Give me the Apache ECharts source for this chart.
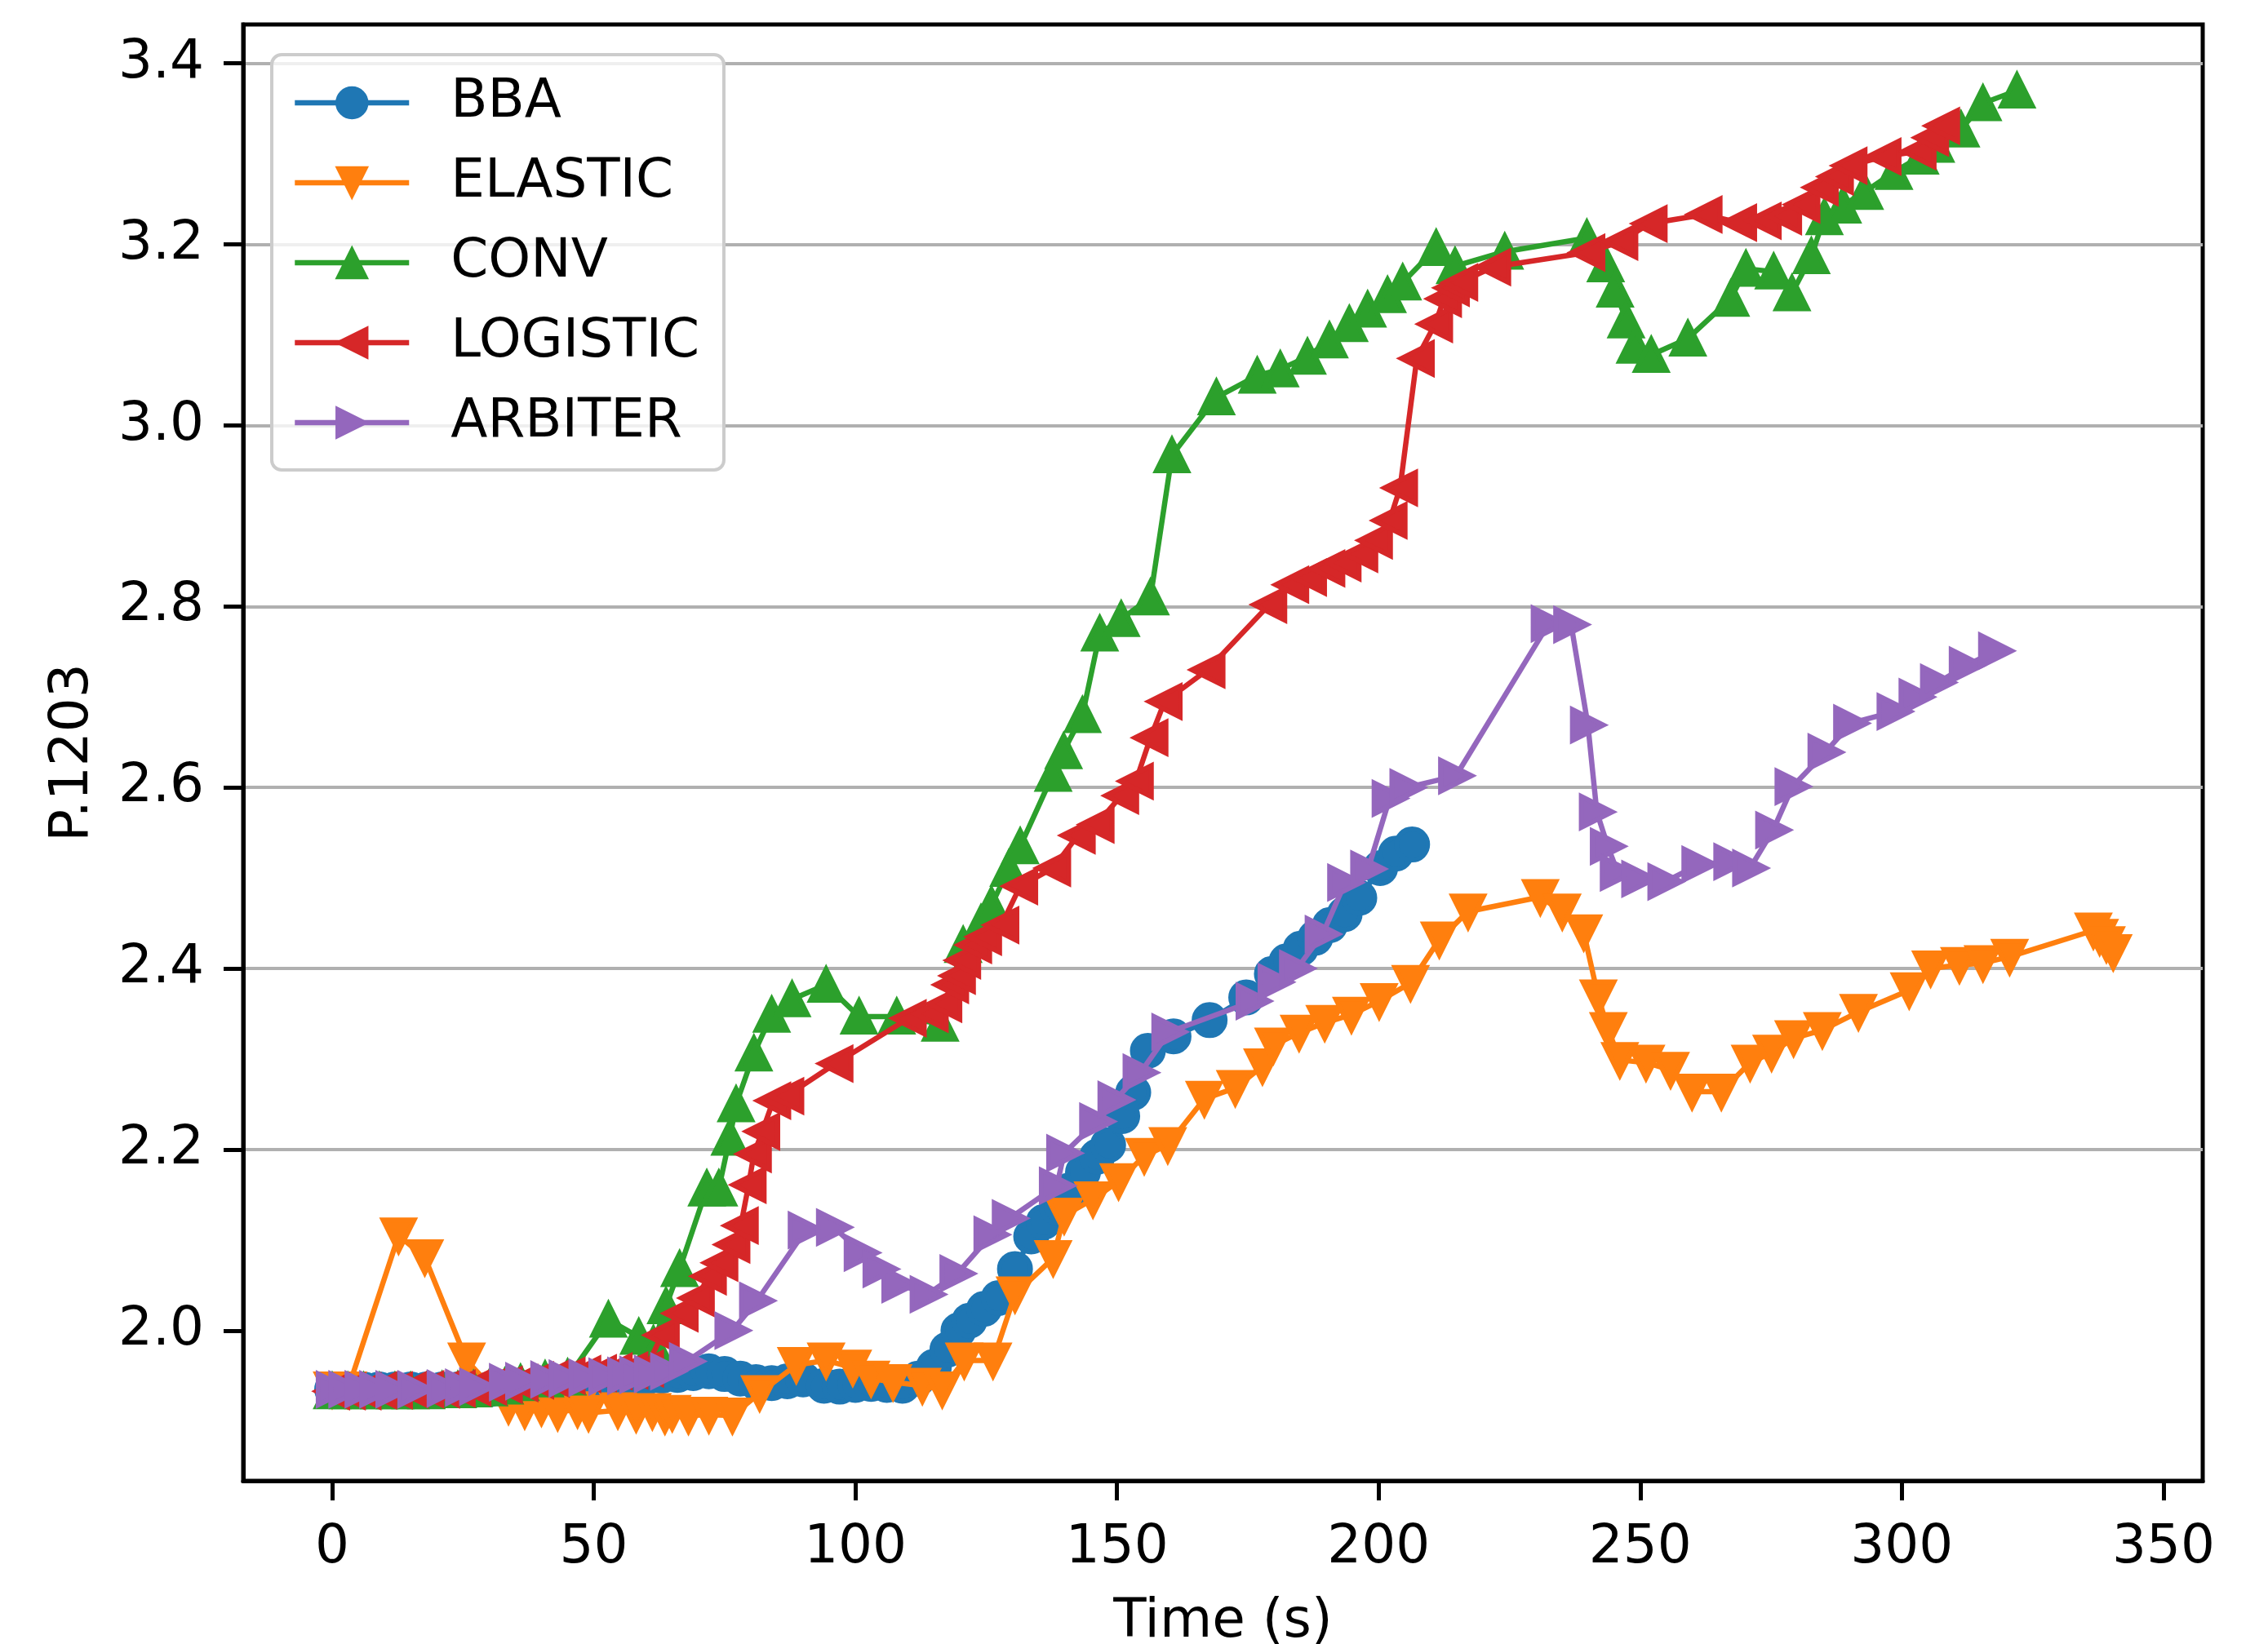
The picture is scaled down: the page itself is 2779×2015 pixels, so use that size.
<!DOCTYPE html>
<html><head><meta charset="utf-8">
<script src="https://cdn.jsdelivr.net/npm/echarts@6/dist/echarts.min.js"></script>
<style>html,body{margin:0;padding:0;background:#fff}#c{width:2779px;height:2015px}</style>
</head><body><div id="c"></div>
<script>
const seriesNames = ['BBA', 'ELASTIC', 'CONV', 'LOGISTIC', 'ARBITER'];
const xTicks = [0, 50, 100, 150, 200, 250, 300, 350];
const yTicks = [2.0, 2.2, 2.4, 2.6, 2.8, 3.0, 3.2, 3.4];

const bbaData = [[0,1.935],[3,1.935],[6,1.935],[9,1.935],[12,1.935],[15,1.935],[18,1.935],[21,1.935],[24,1.935],[27,1.935],[30,1.935],[33,1.936],[36,1.937],[39,1.938],[42,1.94],[45,1.941],[48,1.942],[51,1.944],[54,1.945],[57,1.946],[60,1.948],[63,1.95],[66,1.951],[69,1.953],[72,1.955],[75,1.952],[78,1.947],[81,1.943],[84,1.942],[87,1.944],[90,1.946],[94,1.939],[97,1.938],[100,1.94],[103,1.941],[106,1.94],[109,1.939],[112,1.947],[115,1.96],[117.6,1.979],[119.7,2.0],[121.8,2.011],[124.6,2.024],[127.4,2.036],[130.5,2.068],[133.6,2.104],[136,2.12],[138.5,2.136],[141,2.155],[143.5,2.175],[146.2,2.192],[148.3,2.205],[151,2.237],[153.1,2.263],[155.9,2.309],[160.8,2.325],[167.7,2.343],[174.7,2.368],[179.6,2.394],[182.4,2.408],[185.1,2.422],[187.9,2.434],[190.7,2.448],[193.5,2.46],[196.3,2.478],[200.3,2.511],[203.3,2.527],[206.4,2.537]];

const elasticData = [[0,1.935],[3,1.935],[12.7,2.105],[17.7,2.081],[25.7,1.967],[33.7,1.917],[36.8,1.912],[40,1.915],[43.1,1.91],[46.9,1.913],[49,1.909],[54.6,1.912],[58.1,1.908],[61.2,1.911],[63.6,1.906],[65,1.909],[68.1,1.906],[72,1.907],[76.5,1.906],[81.7,1.931],[88.7,1.962],[94.4,1.967],[99.5,1.959],[103,1.947],[107.2,1.943],[112.8,1.939],[116.6,1.935],[120.8,1.967],[126.3,1.967],[130.5,2.04],[137.8,2.08],[139.9,2.127],[145.4,2.145],[150.3,2.165],[155.2,2.193],[159.7,2.205],[166.7,2.256],[172.6,2.268],[177.8,2.292],[179.9,2.315],[184.8,2.329],[189.7,2.34],[194.8,2.349],[200.1,2.364],[206.1,2.384],[211.6,2.432],[217.1,2.463],[230.9,2.479],[235.1,2.463],[239.2,2.44],[242,2.368],[243.9,2.332],[246.1,2.299],[251.1,2.296],[255.8,2.288],[259.9,2.264],[265.5,2.264],[271,2.296],[275.1,2.307],[279.3,2.323],[284.8,2.332],[291.7,2.352],[301.4,2.376],[305.5,2.4],[311,2.404],[315.5,2.406],[320.6,2.413],[336.6,2.442],[337.8,2.435],[339.1,2.427],[340.4,2.418]];

const convData = [[0,1.933],[3,1.933],[6,1.933],[9,1.933],[12,1.933],[15,1.933],[18,1.933],[21,1.934],[24,1.934],[27,1.935],[30,1.936],[33,1.938],[36,1.942],[40.7,1.946],[45,1.948],[52.8,2.012],[58.6,1.993],[61.4,1.985],[63.8,2.027],[66.4,2.068],[71.6,2.157],[73.9,2.157],[76,2.213],[77.2,2.25],[80.6,2.306],[84,2.349],[87.9,2.366],[94.4,2.382],[100.7,2.347],[107.9,2.347],[116.2,2.339],[120.6,2.426],[124,2.45],[126,2.47],[129.3,2.51],[131.5,2.535],[137.8,2.615],[139.8,2.64],[143.4,2.68],[146.7,2.77],[150.8,2.786],[156.4,2.81],[160.5,2.967],[169,3.031],[176.8,3.055],[181.2,3.062],[186.4,3.076],[190.6,3.094],[194.4,3.112],[197.9,3.128],[201.7,3.144],[204.6,3.158],[211,3.196],[214.6,3.176],[224.1,3.192],[239.8,3.207],[243.4,3.178],[245.2,3.15],[247.3,3.116],[249,3.088],[252.1,3.078],[259.1,3.096],[267.3,3.14],[270.2,3.173],[275.5,3.17],[279,3.146],[282.7,3.187],[285.2,3.23],[288.7,3.243],[292.9,3.258],[298.5,3.28],[303.5,3.297],[306.5,3.31],[311.3,3.327],[315.5,3.356],[322,3.37]];

const logisticData = [[0,1.933],[3,1.933],[6,1.933],[9,1.934],[12,1.934],[15,1.935],[18,1.935],[21,1.935],[24,1.936],[27,1.937],[30,1.938],[33,1.94],[36,1.942],[39,1.945],[42,1.947],[45,1.95],[48,1.952],[51,1.953],[54,1.955],[57,1.956],[60,1.958],[63,1.995],[66.6,2.019],[69.7,2.036],[72,2.06],[74.2,2.075],[76.5,2.095],[78.1,2.116],[79.6,2.161],[80.6,2.195],[82.2,2.22],[84.3,2.254],[86.8,2.259],[96.2,2.295],[110.2,2.345],[114.4,2.35],[117,2.361],[118.3,2.382],[119.6,2.392],[120.6,2.409],[122.7,2.426],[124.6,2.435],[127.9,2.448],[131.5,2.491],[137.8,2.511],[142.5,2.547],[146.1,2.559],[150.8,2.591],[153.6,2.607],[156.4,2.655],[159.1,2.695],[167.3,2.73],[179.1,2.802],[183.3,2.824],[186.7,2.832],[190.2,2.842],[193.3,2.848],[196.5,2.858],[199.3,2.873],[202.1,2.895],[204.1,2.931],[207.3,3.074],[210.8,3.112],[212.5,3.14],[214,3.152],[215.6,3.158],[221.9,3.175],[239.9,3.191],[246.2,3.203],[251.8,3.223],[262.3,3.233],[268.9,3.224],[273.6,3.226],[277.5,3.231],[281,3.244],[284.5,3.263],[287.4,3.275],[290,3.287],[296.5,3.297],[303.2,3.303],[305.6,3.318],[307.7,3.331]];

const arbiterData = [[0.3,1.935],[2.7,1.935],[5.8,1.935],[8.6,1.935],[11.7,1.935],[15.9,1.935],[21.5,1.936],[25,1.937],[27.7,1.938],[33.4,1.943],[36.5,1.944],[41.3,1.946],[44.8,1.947],[48.6,1.948],[52.4,1.949],[56,1.95],[58.3,1.951],[61.1,1.952],[64.2,1.955],[67.8,1.966],[76.5,2.0],[81.2,2.033],[90.5,2.111],[95.9,2.114],[101.2,2.086],[104.8,2.068],[108.4,2.051],[113.8,2.04],[119.5,2.063],[126,2.106],[129.5,2.124],[138.5,2.16],[139.9,2.196],[146.2,2.231],[149.7,2.255],[154.5,2.285],[160,2.33],[176.1,2.364],[180.3,2.385],[184.4,2.4],[189.3,2.438],[193.6,2.495],[198,2.51],[202.1,2.588],[205.5,2.6],[214.8,2.613],[232.5,2.781],[236.8,2.78],[240,2.669],[241.7,2.573],[243.8,2.535],[245.7,2.506],[249.8,2.499],[254.8,2.496],[261.3,2.515],[267.4,2.518],[271,2.511],[275.4,2.553],[279.1,2.601],[285.4,2.639],[290.3,2.671],[298.6,2.684],[302.8,2.7],[306.9,2.716],[312.4,2.735],[318,2.751]];

const colors = ['#1f77b4', '#ff7f0e', '#2ca02c', '#d62728', '#9467bd'];
const markerShapes = ['circle', 'triangle', 'triangle', 'triangle', 'triangle'];
const markerRotations = [0, 180, 0, 90, -90];
const allData = [bbaData, elasticData, convData, logisticData, arbiterData];

const FONT = 'DejaVu Sans';
const FS = 66;

const chart = echarts.init(document.getElementById('c'), null, {renderer: 'canvas'});
chart.setOption({
  animation: false,
  backgroundColor: '#ffffff',
  grid: {left: 298, right: 80, top: 30, bottom: 200, containLabel: false, outerBoundsMode: 'none',
         show: true, borderColor: '#000', borderWidth: 5, backgroundColor: 'transparent'},
  legend: {
    data: seriesNames, orient: 'vertical', left: 333, top: 67, z: 50,
    itemWidth: 140, itemHeight: 48, itemGap: 32,
    padding: [26, 30, 25, 25],
    backgroundColor: 'rgba(255,255,255,0.8)', borderColor: '#cccccc', borderWidth: 4, borderRadius: 12,
    selectedMode: false,
    lineStyle: {width: 6.5},
    textStyle: {fontFamily: FONT, fontSize: FS, color: '#000', padding: [0, 0, 0, 46]}
  },
  xAxis: {
    type: 'value', min: -17, max: 357.5,
    splitLine: {show: false},
    axisLine: {show: true, onZero: false, lineStyle: {color: '#000', width: 5}},
    axisTick: {show: true, length: 24, customValues: xTicks, lineStyle: {color: '#000', width: 5}},
    axisLabel: {customValues: xTicks, fontFamily: FONT, fontSize: FS, color: '#000', margin: 50, formatter: v => String(v)},
    name: 'Time (s)', nameLocation: 'middle', nameGap: 141,
    nameTextStyle: {fontFamily: FONT, fontSize: FS, color: '#000'}
  },
  yAxis: {
    type: 'value', min: 1.834, max: 3.443, splitNumber: 8,
    splitLine: {show: true, showMinLine: false, showMaxLine: true, lineStyle: {color: '#b0b0b0', width: 4}},
    axisLine: {show: true, onZero: false, lineStyle: {color: '#000', width: 5}},
    axisTick: {show: true, length: 24, customValues: yTicks, lineStyle: {color: '#000', width: 5}},
    axisLabel: {customValues: yTicks, fontFamily: FONT, fontSize: FS, color: '#000', margin: 48, formatter: v => v.toFixed(1)},
    name: 'P.1203', nameLocation: 'middle', nameRotate: 90, nameGap: 175,
    nameTextStyle: {fontFamily: FONT, fontSize: FS, color: '#000'}
  },
  series: seriesNames.map((name, i) => ({
    name: name, type: 'line', data: allData[i], z: 10 + i,
    symbol: markerShapes[i], symbolSize: 38, symbolRotate: markerRotations[i],
    showAllSymbol: true, clip: true,
    lineStyle: {color: colors[i], width: 6.5},
    itemStyle: {color: colors[i], borderColor: colors[i], borderWidth: 6, borderJoin: 'miter', borderMiterLimit: 10},
    emphasis: {disabled: true}
  }))
});
</script>
</body></html>
